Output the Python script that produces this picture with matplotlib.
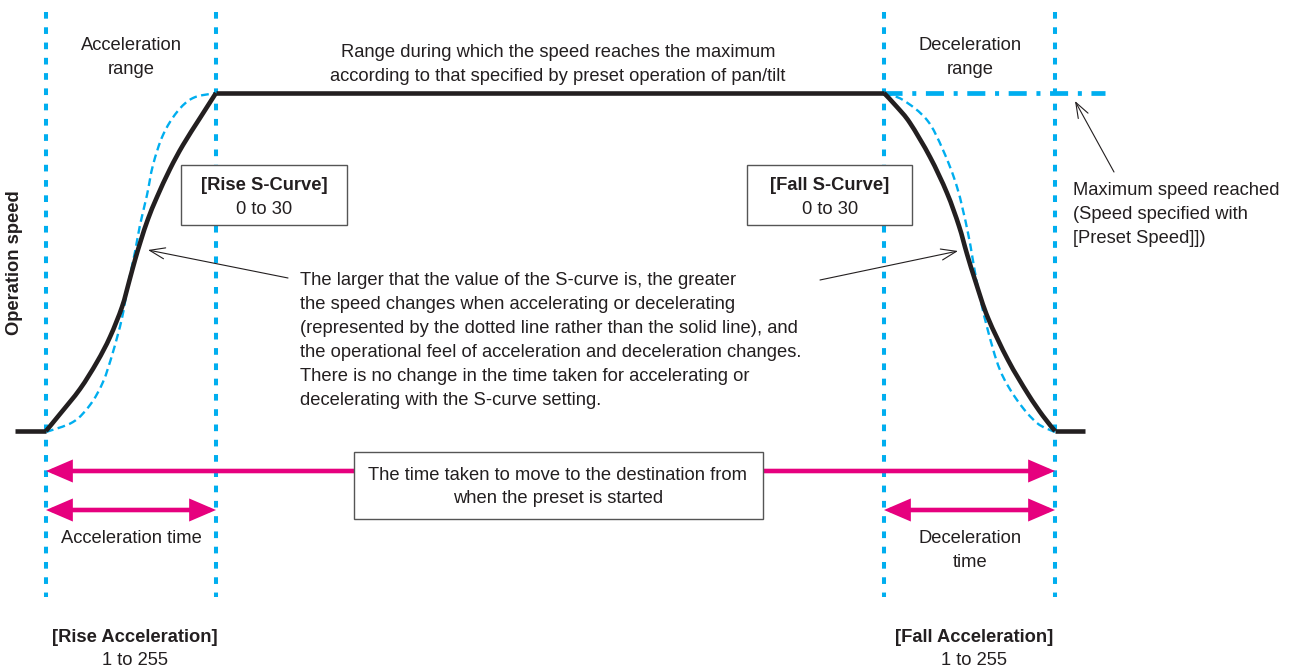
import numpy as np
import matplotlib.pyplot as plt
from matplotlib.patches import Rectangle, FancyArrowPatch, PathPatch
from matplotlib.path import Path

plt.rcParams['font.family'] = ['Liberation Sans', 'DejaVu Sans']
plt.rcParams['lines.scale_dashes'] = False

# --- diagram data (pixel space of the original picture, y grows downward) ---
range_edges = [46, 216, 884, 1055]        # start/end of acceleration and deceleration ranges
low_speed = 431
max_speed = 93

rise_solid_x = [46, 60, 80, 97, 110, 122, 129, 135, 141, 148, 157, 170, 183, 200, 216]
rise_solid_y = [431, 414, 389, 362, 337, 307, 282, 260, 240, 219, 197, 169, 145, 118, 93]
rise_dashed_x = [46, 73, 90, 103, 113, 122, 128, 135, 140, 147, 153, 163, 177, 193, 216]
rise_dashed_y = [432, 422, 405, 382, 352, 318, 285, 252, 225, 195, 165, 135, 112, 98, 93]

fall_solid_x = [884, 897, 910, 930, 947, 959, 967, 976, 988, 1008, 1028, 1043, 1055]
fall_solid_y = [93, 107, 123, 157, 193, 226, 254, 283, 318, 360, 394, 416, 431]
fall_dashed_x = [884, 903, 927, 943, 957, 968, 977, 987, 1000, 1017, 1037, 1055]
fall_dashed_y = [93, 100, 120, 150, 187, 233, 283, 327, 370, 400, 423, 432]

lead_in = [15, 46]
lead_out = [1055, 1085]
preset_speed_end = 1105

BLUE = '#00aeef'
PINK = '#e6007e'
INK = '#231f20'
FS = 13.2

fig = plt.figure(figsize=(12.94, 6.68), dpi=100)
ax = fig.add_axes([0, 0, 1, 1])
ax.set_xlim(0, 1294)
ax.set_ylim(668, 0)
ax.axis('off')


def smooth_path(xs, ys):
    # Catmull-Rom through the read points, drawn as cubic Bezier segments
    p = np.column_stack([xs, ys]).astype(float)
    verts = [p[0]]
    codes = [Path.MOVETO]
    for i in range(len(p) - 1):
        p0 = p[i - 1] if i > 0 else p[i]
        p3 = p[i + 2] if i + 2 < len(p) else p[i + 1]
        c1 = p[i] + (p[i + 1] - p0) / 6
        c2 = p[i + 1] - (p3 - p[i]) / 6
        verts += [c1, c2, p[i + 1]]
        codes += [Path.CURVE4] * 3
    return Path(verts, codes)


def curve(xs, ys, **kw):
    ax.add_patch(PathPatch(smooth_path(xs, ys), facecolor='none', **kw))


# vertical range markers
for x in range_edges:
    ax.plot([x, x], [12, 597], color=BLUE, lw=2.9, linestyle=(0, (4.8, 6.2)),
            solid_capstyle='butt', dash_capstyle='butt', zorder=1)

# preset speed level (dash-dot)
ax.plot([range_edges[2], preset_speed_end], [max_speed, max_speed], color=BLUE, lw=3.4,
        linestyle=(0, (13.0, 7.0, 2.9, 6.9)), dash_capstyle='butt', zorder=2)

# S-curve (dashed) profiles
curve(rise_dashed_x, rise_dashed_y, edgecolor=BLUE, lw=1.7, linestyle=(0, (5.6, 3.2)), zorder=3)
curve(fall_dashed_x, fall_dashed_y, edgecolor=BLUE, lw=1.7, linestyle=(0, (5.6, 3.2)), zorder=3)

# solid speed profile
curve(rise_solid_x, rise_solid_y, edgecolor=INK, lw=3.3, zorder=4)
curve(fall_solid_x, fall_solid_y, edgecolor=INK, lw=3.3, zorder=4)
ax.plot(lead_in, [low_speed, low_speed], color=INK, lw=3.3, solid_capstyle='butt', zorder=4)
ax.plot(lead_out, [low_speed, low_speed], color=INK, lw=3.3, solid_capstyle='butt', zorder=4)
ax.plot([range_edges[1], range_edges[2]], [max_speed, max_speed], color=INK, lw=3.3,
        solid_capstyle='butt', zorder=4)


def lines(x, baselines, texts, ha='center', weights=None):
    for i, (y, t) in enumerate(zip(baselines, texts)):
        w = weights[i] if weights else 'normal'
        ax.text(x, y, t, ha=ha, va='baseline', fontsize=FS, color=INK, fontweight=w, zorder=6)


def box(x0, y0, x1, y1):
    ax.add_patch(Rectangle((x0, y0), x1 - x0, y1 - y0, facecolor='white',
                           edgecolor='#555555', lw=1.0, zorder=5))


def pink_arrow(x0, x1, y, style):
    ax.add_patch(FancyArrowPatch((x0, y), (x1, y), arrowstyle=style, color=PINK, lw=3.3,
                                 shrinkA=0, shrinkB=0, mutation_scale=1,
                                 joinstyle='miter', capstyle='butt', zorder=3))


def thin_arrow(p_from, p_to):
    ax.add_patch(FancyArrowPatch(p_from, p_to, arrowstyle='->,head_length=11,head_width=4',
                                 color=INK, lw=0.8, shrinkA=0, shrinkB=0,
                                 mutation_scale=1, zorder=6))


# top labels
lines(131, [50, 74], ['Acceleration', 'range'])
lines(558, [57, 81], ['Range during which the speed reaches the maximum',
                      'according to that specified by preset operation of pan/tilt'])
lines(970, [50, 74], ['Deceleration', 'range'])

# S-curve boxes
box(181, 165, 347, 225)
lines(264, [190, 214], ['[Rise S-Curve]', '0 to 30'], weights=['bold', 'normal'])
box(747, 165, 912, 225)
lines(830, [190, 214], ['[Fall S-Curve]', '0 to 30'], weights=['bold', 'normal'])

# maximum speed note
lines(1073, [195, 219, 243], ['Maximum speed reached', '(Speed specified with',
                              '[Preset Speed]])'], ha='left')
thin_arrow((1114, 172), (1075, 101))

# explanation
lines(300, [285, 309, 333, 357, 381, 405],
      ['The larger that the value of the S-curve is, the greater',
       'the speed changes when accelerating or decelerating',
       '(represented by the dotted line rather than the solid line), and',
       'the operational feel of acceleration and deceleration changes.',
       'There is no change in the time taken for accelerating or',
       'decelerating with the S-curve setting.'], ha='left')
thin_arrow((288, 278), (148, 250))
thin_arrow((820, 280), (958, 251))

# y label
ax.text(15, 263, 'Operation speed', rotation=90, ha='center', va='center',
        fontsize=FS, fontweight='bold', color=INK)

# time arrows
head = 'head_length=13.5,head_width=5.8'
pink_arrow(range_edges[0], range_edges[3], 471, '<|-|>,' + head)
box(354, 452, 763, 519)
lines(558, [480, 503], ['The time taken to move to the destination from',
                        'when the preset is started'])
pink_arrow(range_edges[0], range_edges[1], 510, '<|-|>,' + head)
pink_arrow(range_edges[2], range_edges[3], 510, '<|-|>,' + head)

lines(131, [543], ['Acceleration time'])
lines(970, [543, 567], ['Deceleration', 'time'])

lines(135, [642, 665], ['[Rise Acceleration]', '1 to 255'], weights=['bold', 'normal'])
lines(974, [642, 665], ['[Fall Acceleration]', '1 to 255'], weights=['bold', 'normal'])

fig.savefig('out.png', dpi=100, facecolor='white')
